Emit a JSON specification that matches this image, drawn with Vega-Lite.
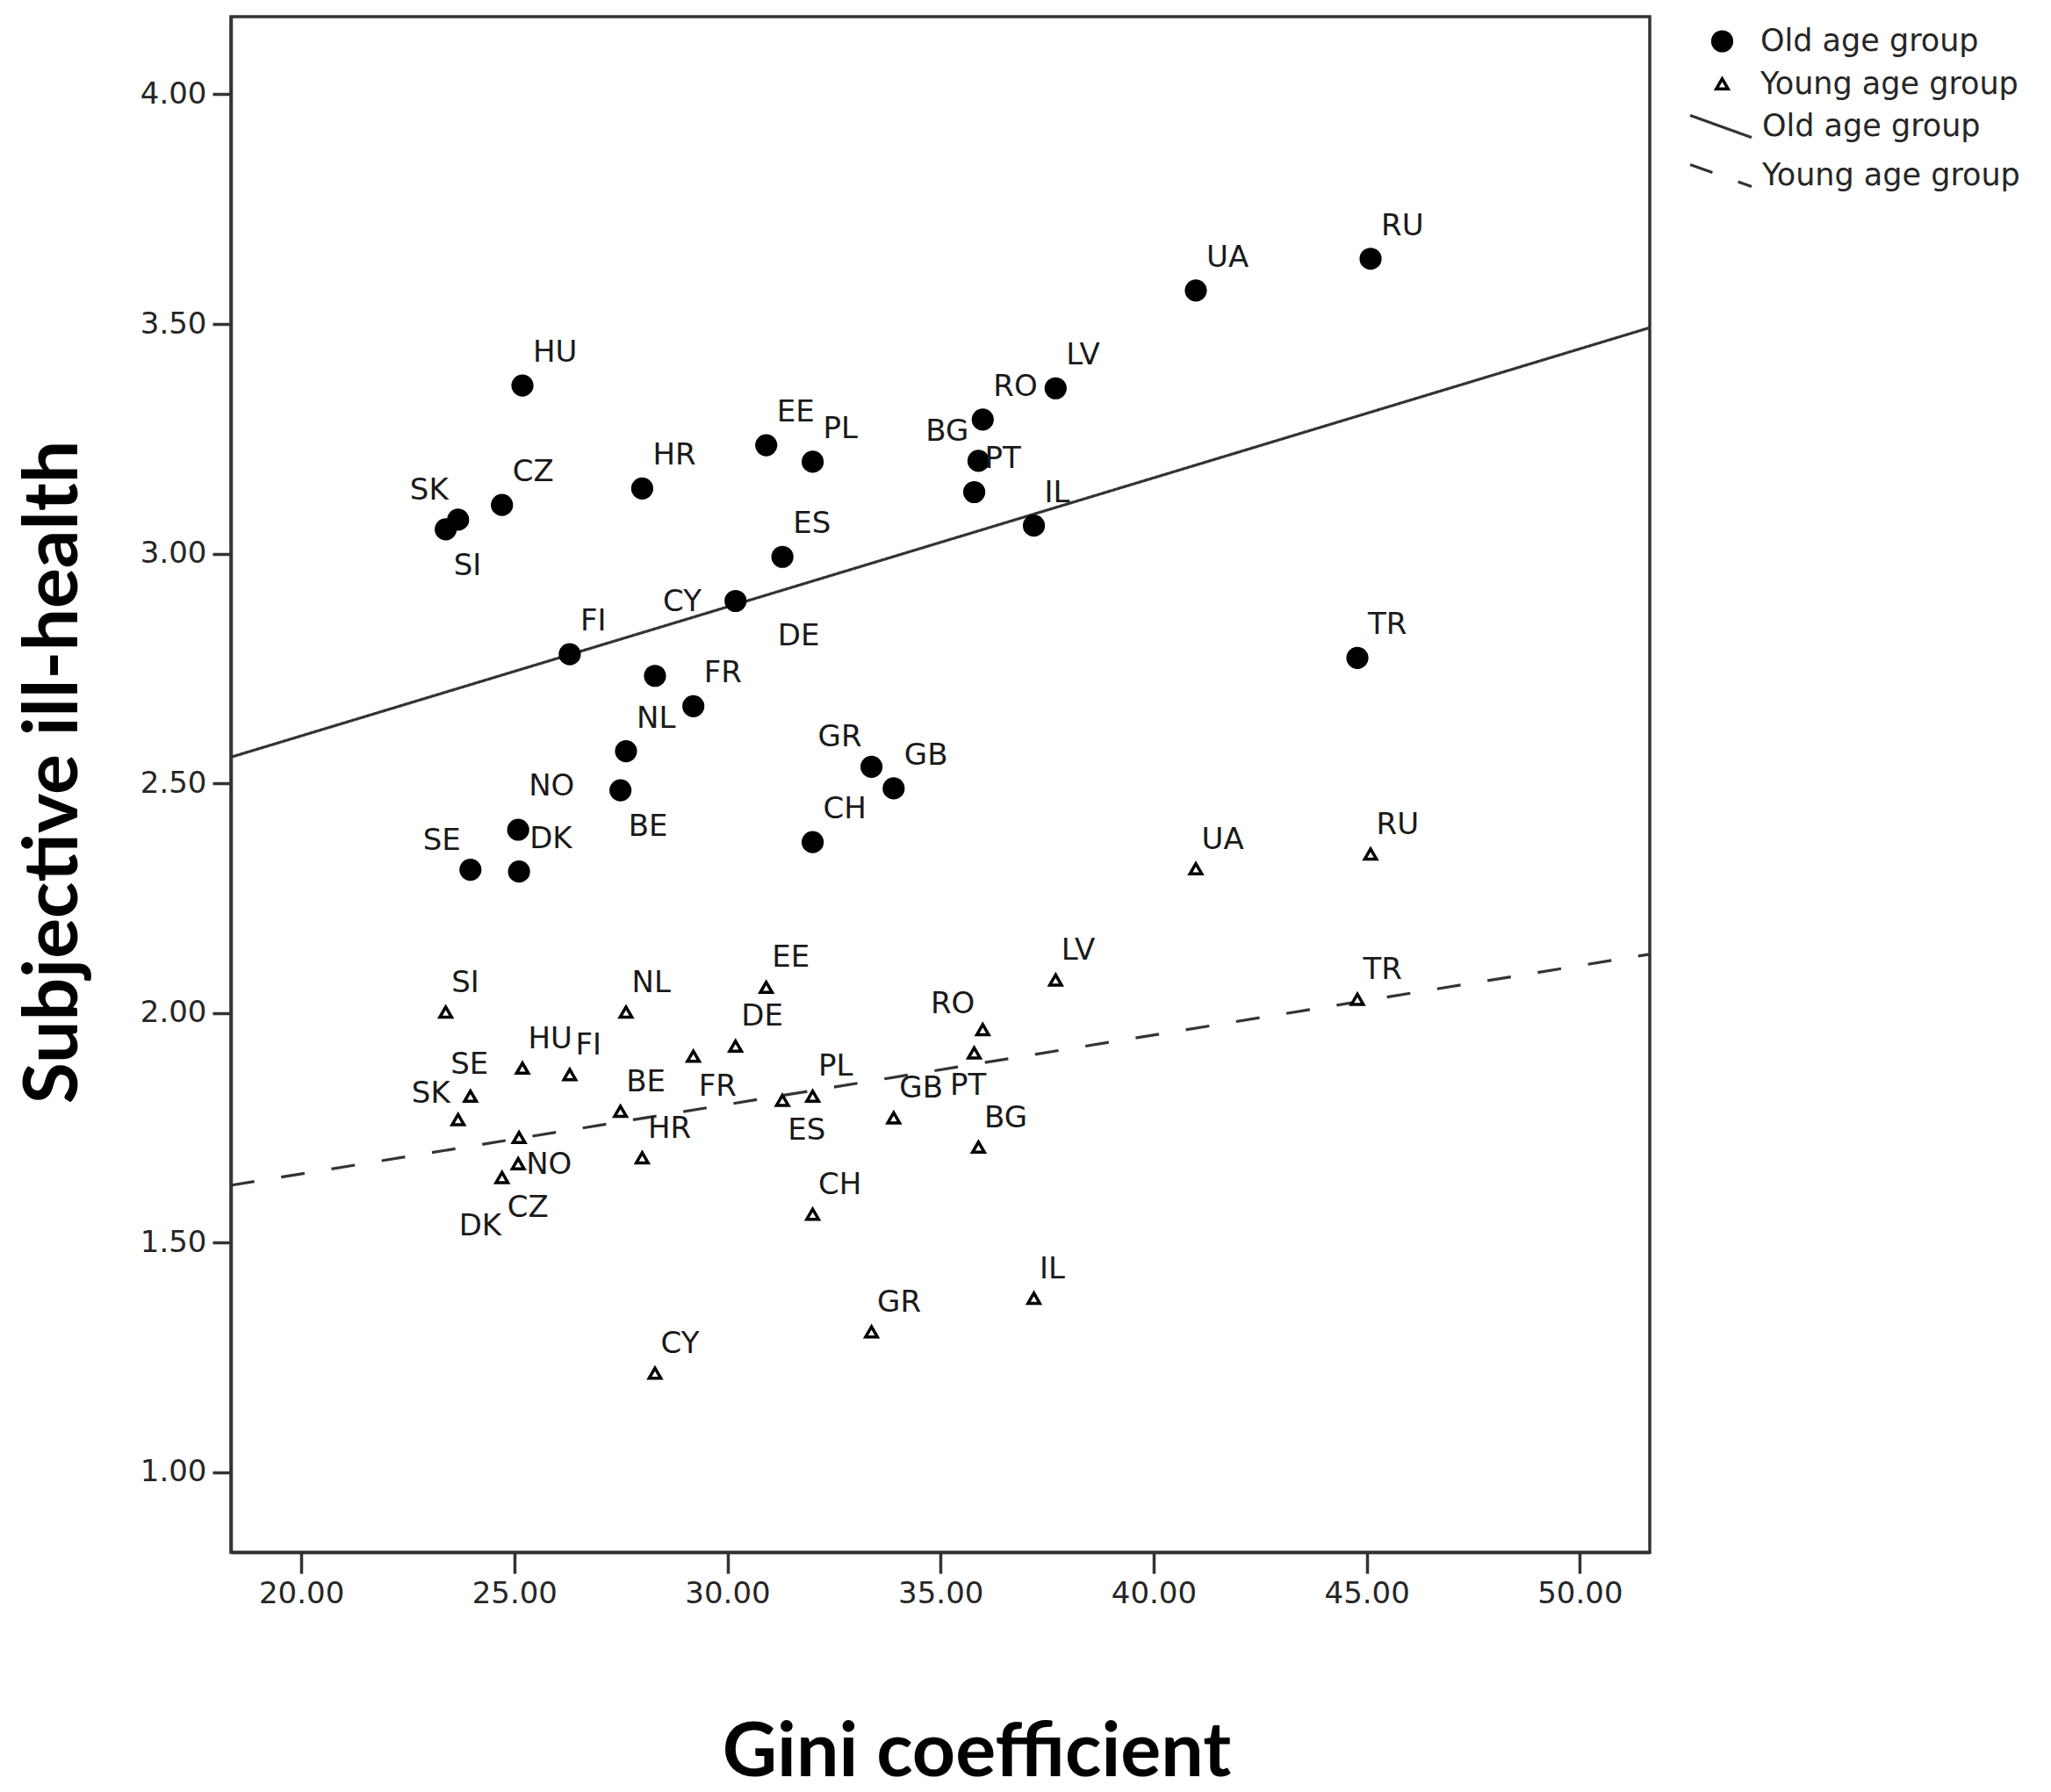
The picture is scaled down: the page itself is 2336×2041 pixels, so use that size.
{
  "$schema": "https://vega.github.io/schema/vega-lite/v6.json",
  "width": 1616,
  "height": 1749,
  "autosize": {"type": "none"},
  "padding": {"left": 263, "top": 19, "right": 457, "bottom": 273},
  "background": "white",
  "config": {
    "view": {"stroke": "#333333", "strokeWidth": 3.5},
    "axis": {
      "grid": false,
      "domainColor": "#333333",
      "domainWidth": 3.5,
      "tickColor": "#333333",
      "tickWidth": 3.5,
      "labelFont": "DejaVu Sans",
      "labelFontSize": 34,
      "labelColor": "#262626",
      "titleFont": "Lato",
      "titleFontWeight": "bold",
      "titleFontSize": 86,
      "titleColor": "#000000"
    },
    "legend": {"padding": 0, "labelLimit": 0}
  },
  "datasets": {
    "pts": [
      {"country": "SI", "group": "Old age group", "gini": 23.39, "health": 3.053},
      {"country": "SK", "group": "Old age group", "gini": 23.68, "health": 3.074},
      {"country": "SE", "group": "Old age group", "gini": 23.97, "health": 2.312},
      {"country": "CZ", "group": "Old age group", "gini": 24.71, "health": 3.106},
      {"country": "NO", "group": "Old age group", "gini": 25.09, "health": 2.399},
      {"country": "DK", "group": "Old age group", "gini": 25.11, "health": 2.308},
      {"country": "HU", "group": "Old age group", "gini": 25.19, "health": 3.366},
      {"country": "FI", "group": "Old age group", "gini": 26.30, "health": 2.781},
      {"country": "BE", "group": "Old age group", "gini": 27.49, "health": 2.485},
      {"country": "NL", "group": "Old age group", "gini": 27.62, "health": 2.570},
      {"country": "HR", "group": "Old age group", "gini": 28.00, "health": 3.142},
      {"country": "CY", "group": "Old age group", "gini": 28.30, "health": 2.734},
      {"country": "FR", "group": "Old age group", "gini": 29.20, "health": 2.668},
      {"country": "DE", "group": "Old age group", "gini": 30.19, "health": 2.897},
      {"country": "EE", "group": "Old age group", "gini": 30.91, "health": 3.236},
      {"country": "ES", "group": "Old age group", "gini": 31.29, "health": 2.993},
      {"country": "PL", "group": "Old age group", "gini": 32.00, "health": 3.200},
      {"country": "CH", "group": "Old age group", "gini": 32.00, "health": 2.372},
      {"country": "GR", "group": "Old age group", "gini": 33.38, "health": 2.536},
      {"country": "GB", "group": "Old age group", "gini": 33.90, "health": 2.489},
      {"country": "PT", "group": "Old age group", "gini": 35.79, "health": 3.134},
      {"country": "BG", "group": "Old age group", "gini": 35.89, "health": 3.202},
      {"country": "RO", "group": "Old age group", "gini": 35.99, "health": 3.292},
      {"country": "IL", "group": "Old age group", "gini": 37.19, "health": 3.061},
      {"country": "LV", "group": "Old age group", "gini": 37.70, "health": 3.360},
      {"country": "UA", "group": "Old age group", "gini": 40.99, "health": 3.573},
      {"country": "TR", "group": "Old age group", "gini": 44.78, "health": 2.773},
      {"country": "RU", "group": "Old age group", "gini": 45.09, "health": 3.642},
      {"country": "SI", "group": "Young age group", "gini": 23.39, "health": 2.002},
      {"country": "SK", "group": "Young age group", "gini": 23.68, "health": 1.768},
      {"country": "SE", "group": "Young age group", "gini": 23.97, "health": 1.819},
      {"country": "CZ", "group": "Young age group", "gini": 24.71, "health": 1.642},
      {"country": "NO", "group": "Young age group", "gini": 25.09, "health": 1.672},
      {"country": "DK", "group": "Young age group", "gini": 25.11, "health": 1.729},
      {"country": "HU", "group": "Young age group", "gini": 25.19, "health": 1.880},
      {"country": "FI", "group": "Young age group", "gini": 26.30, "health": 1.866},
      {"country": "BE", "group": "Young age group", "gini": 27.49, "health": 1.786},
      {"country": "NL", "group": "Young age group", "gini": 27.62, "health": 2.002},
      {"country": "HR", "group": "Young age group", "gini": 28.00, "health": 1.685},
      {"country": "CY", "group": "Young age group", "gini": 28.30, "health": 1.216},
      {"country": "FR", "group": "Young age group", "gini": 29.20, "health": 1.906},
      {"country": "DE", "group": "Young age group", "gini": 30.19, "health": 1.928},
      {"country": "EE", "group": "Young age group", "gini": 30.91, "health": 2.056},
      {"country": "ES", "group": "Young age group", "gini": 31.29, "health": 1.810},
      {"country": "PL", "group": "Young age group", "gini": 32.00, "health": 1.819},
      {"country": "CH", "group": "Young age group", "gini": 32.00, "health": 1.562},
      {"country": "GR", "group": "Young age group", "gini": 33.38, "health": 1.306},
      {"country": "GB", "group": "Young age group", "gini": 33.90, "health": 1.772},
      {"country": "PT", "group": "Young age group", "gini": 35.79, "health": 1.913},
      {"country": "BG", "group": "Young age group", "gini": 35.89, "health": 1.708},
      {"country": "RO", "group": "Young age group", "gini": 35.99, "health": 1.964},
      {"country": "IL", "group": "Young age group", "gini": 37.19, "health": 1.379},
      {"country": "LV", "group": "Young age group", "gini": 37.70, "health": 2.072},
      {"country": "UA", "group": "Young age group", "gini": 40.99, "health": 2.314},
      {"country": "TR", "group": "Young age group", "gini": 44.78, "health": 2.030},
      {"country": "RU", "group": "Young age group", "gini": 45.09, "health": 2.346}
    ],
    "fits": [
      {"fit": "Old age group", "gini": 18.35, "health": 2.557},
      {"fit": "Old age group", "gini": 51.64, "health": 3.492},
      {"fit": "Young age group", "gini": 18.35, "health": 1.625},
      {"fit": "Young age group", "gini": 51.64, "health": 2.128}
    ]
  },
  "encoding": {
    "x": {
      "field": "gini",
      "type": "quantitative",
      "scale": {"domain": [18.35, 51.64], "nice": false, "zero": false},
      "axis": {
        "values": [20, 25, 30, 35, 40, 45, 50],
        "format": ".2f",
        "title": "Gini coefficient",
        "tickSize": 24,
        "labelPadding": 6,
        "titleX": 849,
        "titleY": 254,
        "titleAlign": "center",
        "titleBaseline": "alphabetic"
      }
    },
    "y": {
      "field": "health",
      "type": "quantitative",
      "scale": {"domain": [0.826, 4.169], "nice": false, "zero": false},
      "axis": {
        "values": [1, 1.5, 2, 2.5, 3, 3.5, 4],
        "format": ".2f",
        "title": "Subjective ill-health",
        "tickSize": 21,
        "labelPadding": 7,
        "titleX": -176,
        "titleY": 860,
        "titleAngle": -90,
        "titleAlign": "center",
        "titleBaseline": "alphabetic"
      }
    }
  },
  "layer": [
    {
      "data": {"name": "fits"},
      "mark": {"type": "line", "stroke": "#333333", "strokeWidth": 3.2},
      "encoding": {
        "strokeDash": {
          "field": "fit",
          "type": "nominal",
          "scale": {"range": [[1, 0], [27, 31]]},
          "legend": {
            "orient": "none",
            "legendX": 1660,
            "legendY": 88,
            "title": null,
            "symbolType": "M-1,-0.36L1,0.36",
            "symbolSize": 4900,
            "symbolStrokeWidth": 3.2,
            "symbolStrokeColor": "#333333",
            "labelOffset": 10,
            "labelFont": "DejaVu Sans",
            "labelFontSize": 35,
            "labelColor": "#262626",
            "labelLimit": 0,
            "rowPadding": -6.5
          }
        }
      }
    },
    {
      "data": {"name": "pts"},
      "mark": {"type": "point", "stroke": "black", "strokeWidth": 3.5, "opacity": 1},
      "encoding": {
        "shape": {
          "field": "group",
          "type": "nominal",
          "scale": {"domain": ["Old age group", "Young age group"], "range": ["circle", "triangle-up"]},
          "legend": {
            "orient": "none",
            "legendX": 1681,
            "legendY": 10.5,
            "title": null,
            "labelOffset": 26,
            "labelFont": "DejaVu Sans",
            "labelFontSize": 35,
            "labelColor": "#262626",
            "labelLimit": 0,
            "rowPadding": 12.5,
            "symbolStrokeWidth": 3.5,
            "symbolStrokeColor": "black"
          }
        },
        "fill": {
          "field": "group",
          "type": "nominal",
          "scale": {"domain": ["Old age group", "Young age group"], "range": ["black", "white"]}
        },
        "size": {
          "field": "group",
          "type": "nominal",
          "scale": {"domain": ["Old age group", "Young age group"], "range": [470, 180]}
        }
      }
    },
    {
      "data": {"name": "pts"},
      "transform": [{"filter": {"and": [{"field": "group", "equal": "Old age group"}, {"field": "country", "oneOf": ["HU", "CZ", "HR", "EE", "PL", "PT", "RO", "LV", "IL", "ES", "FI", "FR", "NL", "DK", "GB", "CH", "UA", "RU", "TR"]}]}}],
      "mark": {"type": "text", "align": "left", "baseline": "middle", "dx": 12, "dy": -37, "font": "DejaVu Sans", "fontSize": 34, "color": "#1a1a1a"},
      "encoding": {"text": {"field": "country"}}
    },
    {
      "data": {"name": "pts"},
      "transform": [{"filter": {"and": [{"field": "group", "equal": "Old age group"}, {"field": "country", "oneOf": ["SK", "BG", "SE", "GR"]}]}}],
      "mark": {"type": "text", "align": "right", "baseline": "middle", "dx": -11, "dy": -33, "font": "DejaVu Sans", "fontSize": 34, "color": "#1a1a1a"},
      "encoding": {"text": {"field": "country"}}
    },
    {
      "data": {"name": "pts"},
      "transform": [{"filter": {"and": [{"field": "group", "equal": "Old age group"}, {"field": "country", "oneOf": ["SI", "BE"]}]}}],
      "mark": {"type": "text", "align": "left", "baseline": "middle", "dx": 9, "dy": 42, "font": "DejaVu Sans", "fontSize": 34, "color": "#1a1a1a"},
      "encoding": {"text": {"field": "country"}}
    },
    {
      "data": {"name": "pts"},
      "transform": [{"filter": {"and": [{"field": "group", "equal": "Old age group"}, {"field": "country", "equal": "NO"}]}}],
      "mark": {"type": "text", "align": "left", "baseline": "middle", "dx": 12, "dy": -49, "font": "DejaVu Sans", "fontSize": 34, "color": "#1a1a1a"},
      "encoding": {"text": {"field": "country"}}
    },
    {
      "data": {"name": "pts"},
      "transform": [{"filter": {"and": [{"field": "group", "equal": "Old age group"}, {"field": "country", "equal": "DE"}]}}],
      "mark": {"type": "text", "align": "left", "baseline": "middle", "dx": 48, "dy": 41, "font": "DejaVu Sans", "fontSize": 34, "color": "#1a1a1a"},
      "encoding": {"text": {"field": "country"}}
    },
    {
      "data": {"name": "pts"},
      "transform": [{"filter": {"and": [{"field": "group", "equal": "Old age group"}, {"field": "country", "equal": "CY"}]}}],
      "mark": {"type": "text", "align": "left", "baseline": "middle", "dx": 9, "dy": -84, "font": "DejaVu Sans", "fontSize": 34, "color": "#1a1a1a"},
      "encoding": {"text": {"field": "country"}}
    },
    {
      "data": {"name": "pts"},
      "transform": [{"filter": {"and": [{"field": "group", "equal": "Young age group"}, {"field": "country", "oneOf": ["SI", "NL", "HU", "FI", "BE", "HR", "EE", "DE", "PL", "GB", "BG", "LV", "UA", "RU", "TR", "CH", "IL", "GR", "CY"]}]}}],
      "mark": {"type": "text", "align": "left", "baseline": "middle", "dx": 6.5, "dy": -33, "font": "DejaVu Sans", "fontSize": 34, "color": "#1a1a1a"},
      "encoding": {"text": {"field": "country"}}
    },
    {
      "data": {"name": "pts"},
      "transform": [{"filter": {"and": [{"field": "group", "equal": "Young age group"}, {"field": "country", "oneOf": ["SK", "RO"]}]}}],
      "mark": {"type": "text", "align": "right", "baseline": "middle", "dx": -9, "dy": -29, "font": "DejaVu Sans", "fontSize": 34, "color": "#1a1a1a"},
      "encoding": {"text": {"field": "country"}}
    },
    {
      "data": {"name": "pts"},
      "transform": [{"filter": {"and": [{"field": "group", "equal": "Young age group"}, {"field": "country", "oneOf": ["CZ", "FR", "ES"]}]}}],
      "mark": {"type": "text", "align": "left", "baseline": "middle", "dx": 6, "dy": 35, "font": "DejaVu Sans", "fontSize": 34, "color": "#1a1a1a"},
      "encoding": {"text": {"field": "country"}}
    },
    {
      "data": {"name": "pts"},
      "transform": [{"filter": {"and": [{"field": "group", "equal": "Young age group"}, {"field": "country", "equal": "NO"}]}}],
      "mark": {"type": "text", "align": "left", "baseline": "middle", "dx": 9, "dy": 2, "font": "DejaVu Sans", "fontSize": 34, "color": "#1a1a1a"},
      "encoding": {"text": {"field": "country"}}
    },
    {
      "data": {"name": "pts"},
      "transform": [{"filter": {"and": [{"field": "group", "equal": "Young age group"}, {"field": "country", "equal": "SE"}]}}],
      "mark": {"type": "text", "align": "center", "baseline": "middle", "dx": -1, "dy": -35, "font": "DejaVu Sans", "fontSize": 34, "color": "#1a1a1a"},
      "encoding": {"text": {"field": "country"}}
    },
    {
      "data": {"name": "pts"},
      "transform": [{"filter": {"and": [{"field": "group", "equal": "Young age group"}, {"field": "country", "equal": "PT"}]}}],
      "mark": {"type": "text", "align": "center", "baseline": "middle", "dx": -7, "dy": 38, "font": "DejaVu Sans", "fontSize": 34, "color": "#1a1a1a"},
      "encoding": {"text": {"field": "country"}}
    },
    {
      "data": {"name": "pts"},
      "transform": [{"filter": {"and": [{"field": "group", "equal": "Young age group"}, {"field": "country", "equal": "DK"}]}}],
      "mark": {"type": "text", "align": "right", "baseline": "middle", "dx": -20, "dy": 101, "font": "DejaVu Sans", "fontSize": 34, "color": "#1a1a1a"},
      "encoding": {"text": {"field": "country"}}
    }
  ]
}
